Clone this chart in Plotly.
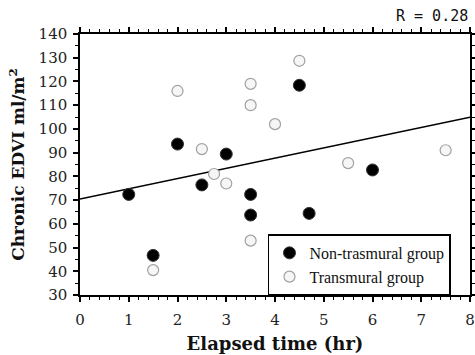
import plotly.graph_objects as go

# Non-transmural group (filled)
nt_x = [1, 1.5, 2, 2.5, 3, 3.5, 3.5, 4.5, 4.7, 6]
nt_y = [72.4, 46.7, 93.6, 76.4, 89.4, 72.4, 63.7, 118.4, 64.4, 82.7]
# Transmural group (open)
t_x = [1.5, 2, 2.5, 2.75, 3, 3.5, 3.5, 3.5, 4, 4.5, 5.5, 7.5]
t_y = [40.5, 116, 91.5, 81, 77, 119, 110, 52.9, 102, 128.7, 85.6, 91]
# Regression line endpoints
fit_x = [0, 8]
fit_y = [70.5, 104.9]

x_ticks = [0, 1, 2, 3, 4, 5, 6, 7, 8]
y_ticks = [30, 40, 50, 60, 70, 80, 90, 100, 110, 120, 130, 140]

serif = "DejaVu Serif"

fig = go.Figure()
fig.add_trace(go.Scatter(x=fit_x, y=fit_y, mode="lines",
                         line=dict(color="black", width=1.5), showlegend=False,
                         hoverinfo="skip"))
fig.add_trace(go.Scatter(x=nt_x, y=nt_y, mode="markers", name="Non-trasmural group",
                         marker=dict(size=12, color="black",
                                     line=dict(color="#333", width=1))))
fig.add_trace(go.Scatter(x=t_x, y=t_y, mode="markers", name="Transmural group",
                         marker=dict(size=11, color="#f6f6f6",
                                     line=dict(color="#a0a0a0", width=1.2))))

axis_common = dict(
    showline=True, linecolor="black", linewidth=1.5, mirror="allticks",
    ticks="outside", ticklen=5, tickwidth=1.5, tickcolor="black",
    showgrid=False, zeroline=False, automargin=False,
    tickfont=dict(family=serif, size=15, color="#222"),
)

fig.update_xaxes(range=[0, 8], tickvals=x_ticks, ticklabelstandoff=5,
                 minor=dict(dtick=0.2, ticks="outside", ticklen=3, tickwidth=1.2, tickcolor="black", showgrid=False),
                 title=dict(text="<b>Elapsed time (hr)</b>",
                            font=dict(family=serif, size=18, color="#111"), standoff=10),
                 **axis_common)
fig.update_yaxes(range=[30, 140], tickvals=y_ticks, ticklabelstandoff=3,
                 minor=dict(dtick=5, ticks="outside", ticklen=3, tickwidth=1.2, tickcolor="black", showgrid=False),
                 title=dict(text="<b>Chronic EDVI ml/m<sup>2</sup></b>",
                            font=dict(family=serif, size=17, color="#111"), standoff=10),
                 **axis_common)

fig.add_annotation(text="R = 0.28", xref="paper", yref="paper", x=1.0, y=1.0,
                   xanchor="right", yanchor="bottom", yshift=7, showarrow=False,
                   font=dict(family="DejaVu Sans Mono", size=15, color="#111"))

fig.update_layout(
    width=475, height=355,
    margin=dict(l=80, r=5, t=34, b=60, autoexpand=False),
    plot_bgcolor="white", paper_bgcolor="white",
    legend=dict(x=0.482, y=0.232, xanchor="left", yanchor="top",
                bordercolor="black", borderwidth=1.5, bgcolor="white",
                font=dict(family="Liberation Serif", size=16, color="#111"),
                itemwidth=30, tracegroupgap=0),
)

fig.write_html("out.html", config={"displayModeBar": False},
               post_script="document.body.style.margin='0';document.body.style.padding='0';")
